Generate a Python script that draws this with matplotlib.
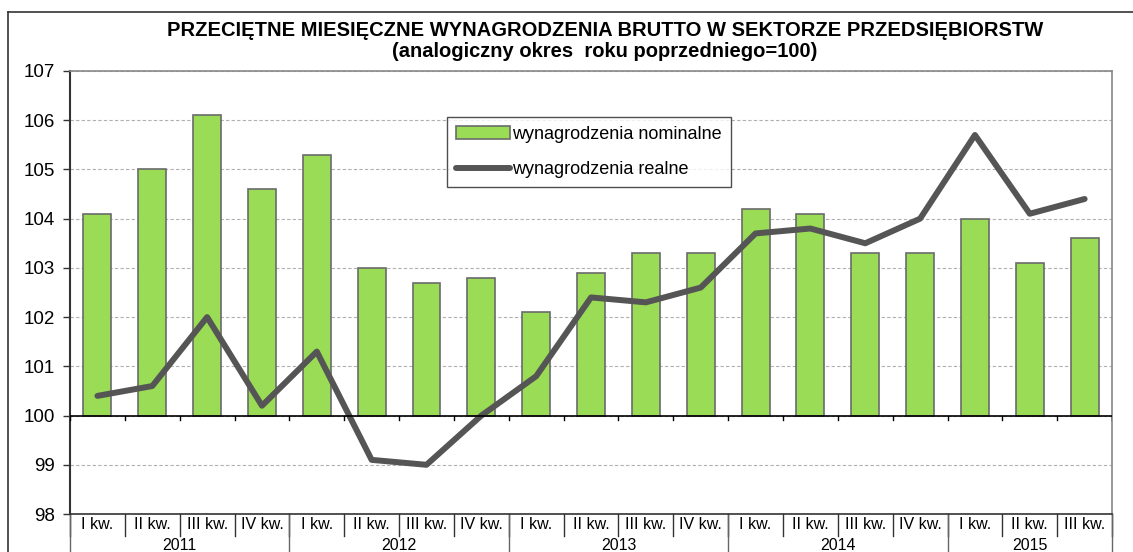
import matplotlib.pyplot as plt
import matplotlib.transforms as mtransforms
from matplotlib.lines import Line2D
import numpy as np

plt.rcParams['font.family'] = ['Liberation Sans', 'DejaVu Sans']

# data
quarters = ['I kw.', 'II kw.', 'III kw.', 'IV kw.'] * 4 + ['I kw.', 'II kw.', 'III kw.']
years = ['2011', '2012', '2013', '2014', '2015']
quarters_per_year = [4, 4, 4, 4, 3]
nominal = [104.1, 105.0, 106.1, 104.6, 105.3, 103.0, 102.7, 102.8, 102.1, 102.9,
           103.3, 103.3, 104.2, 104.1, 103.3, 103.3, 104.0, 103.1, 103.6]
real = [100.4, 100.6, 102.0, 100.2, 101.3, 99.1, 99.0, 100.0, 100.8, 102.4,
        102.3, 102.6, 103.7, 103.8, 103.5, 104.0, 105.7, 104.1, 104.4]

x = np.arange(len(nominal))
base = 100

fig = plt.figure(figsize=(11.33, 5.52), dpi=100)
ax = fig.add_axes([0.0618, 0.0688, 0.9197, 0.8026])

# outer chart frame (top and left edges visible)
fig.add_artist(Line2D([8/1133, 1.0], [1 - 12/552, 1 - 12/552], transform=fig.transFigure,
                      color='#333333', lw=1.2))
fig.add_artist(Line2D([8/1133, 8/1133], [0, 1 - 12/552], transform=fig.transFigure,
                      color='#333333', lw=1.2))

bars = ax.bar(x, np.array(nominal) - base, bottom=base, width=0.51,
              color='#9ADC55', edgecolor='#6b6b6b', linewidth=1.2, zorder=3,
              label='wynagrodzenia nominalne')
line, = ax.plot(x, real, color='#555555', lw=4.3, solid_capstyle='round', zorder=4,
                label='wynagrodzenia realne')

ax.set_xlim(-0.5, len(x) - 0.5)
ax.set_ylim(98, 107)
ax.set_yticks(range(98, 108))
ax.yaxis.grid(True, color='#b0b0b0', ls=(0, (3, 2)), lw=0.8, zorder=0)
ax.set_axisbelow(True)
ax.tick_params(axis='y', labelsize=13.5, length=5, width=1, color='#333333', pad=6)

# category axis crossing at 100
ax.axhline(base, color='black', lw=1.2, zorder=5)
ax.set_xticks([])
for b in np.arange(-0.5, len(x)):
    ax.plot([b, b], [base, base - 0.1], color='black', lw=1, zorder=5)

for side in ['top', 'right']:
    ax.spines[side].set_color('#888888')
    ax.spines[side].set_linewidth(1.2)
ax.spines['left'].set_color('#333333')
ax.spines['left'].set_linewidth(1.5)
ax.spines['bottom'].set_color('#333333')
ax.spines['bottom'].set_linewidth(1.2)

# multi-level category labels below the plot
trans = mtransforms.blended_transform_factory(ax.transData, ax.transAxes)
for i, q in enumerate(quarters):
    ax.text(i, -0.024, q, transform=trans, ha='center', va='center', fontsize=11.5)
for b in np.arange(-0.5, len(x)):
    ax.plot([b, b], [0, -0.05], transform=trans, color='#333333', lw=1, clip_on=False)
start = -0.5
for yr, n in zip(years, quarters_per_year):
    ax.text(start + n / 2, -0.07, yr, transform=trans, ha='center', va='center', fontsize=11.5)
    ax.plot([start, start], [0, -0.1], transform=trans, color='#666666', lw=1, clip_on=False)
    start += n
ax.plot([start, start], [0, -0.1], transform=trans, color='#666666', lw=1, clip_on=False)

leg = ax.legend(handles=[bars, line], loc='upper left', bbox_to_anchor=(0.362, 0.896),
                fontsize=13, frameon=True, fancybox=False, edgecolor='#222222',
                handlelength=3.0, handletextpad=0.1, borderpad=0.5, labelspacing=1.0,
                borderaxespad=0)
leg.get_frame().set_linewidth(1)

fig.text(0.534, 0.926, 'PRZECIĘTNE MIESIĘCZNE WYNAGRODZENIA BRUTTO W SEKTORZE PRZEDSIĘBIORSTW\n'
         '(analogiczny okres  roku poprzedniego=100)', ha='center', va='center',
         fontsize=14.5, fontweight='bold', linespacing=1.15)

fig.savefig('out.png', dpi=100)
